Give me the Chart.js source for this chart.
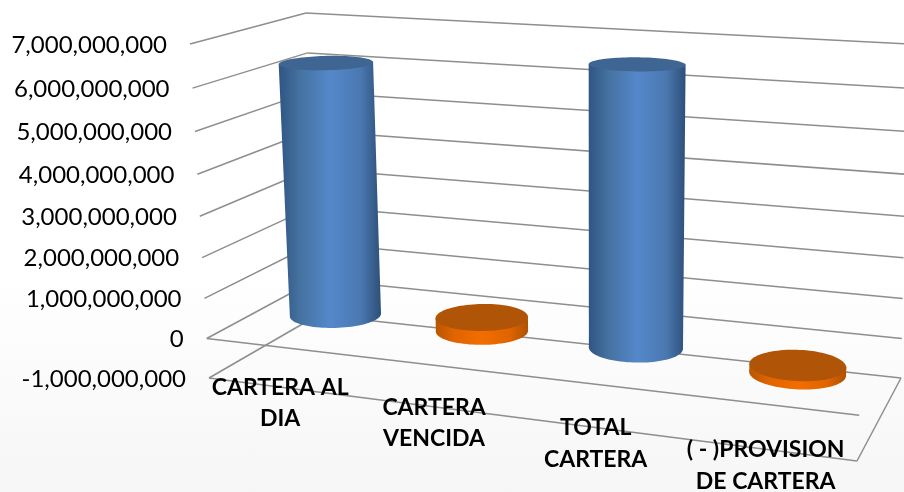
<!DOCTYPE html>
<html>
<head>
<meta charset="utf-8">
<script src="https://cdn.jsdelivr.net/npm/chart.js@4"></script>
<style>
html, body { margin: 0; padding: 0; width: 904px; height: 492px; overflow: hidden; }
body { background: linear-gradient(to bottom, #ffffff 55%, #f6f6f6 100%); }
canvas { display: block; }
</style>
</head>
<body>
<canvas id="grafik" width="904" height="492"></canvas>
<script>
const categories = [
    ['CARTERA AL', 'DIA'],
    ['CARTERA', 'VENCIDA'],
    ['TOTAL', 'CARTERA'],
    ['( - )PROVISION', 'DE CARTERA']
];
const carteraValues = [6250000000, 340000000, 6600000000, -190000000];
const barTints = ['blue', 'orange', 'blue', 'orange'];

// corners of the 3d box on screen: top = axis max, bottom = axis min
const box = {
    frontLeft: [[190, 44], [209, 378]],
    backLeft: [[306, 13], [318, 315]],
    frontRight: [[876, 75], [857, 461]],
    backRight: [[908, 44], [901, 378]]
};
const stretchX = 0.905;
const stretchY = 1.065;

const tints = {
    blue: { top: '#3f6592', stops: ['#2f5583', '#44719f', '#5588cb', '#4a78b0', '#2e4f79'] },
    orange: { top: '#b05507', stops: ['#b85600', '#e06400', '#f26d00', '#e06400', '#ad5200'] }
};

function mix(a, b, t) {
    return [a[0] + (b[0] - a[0]) * t, a[1] + (b[1] - a[1]) * t];
}

function warp(t, k) {
    return k * t / (1 + (k - 1) * t);
}

// px,py are pixels from the chart scales, depth 0 = front, 1 = back
function project(chart, px, py, depth) {
    const area = chart.chartArea;
    const u = warp((px - area.left) / (area.right - area.left), stretchX);
    const v = warp((py - area.top) / (area.bottom - area.top), stretchY);
    const left = mix(mix(box.frontLeft[0], box.frontLeft[1], v), mix(box.backLeft[0], box.backLeft[1], v), depth);
    const right = mix(mix(box.frontRight[0], box.frontRight[1], v), mix(box.backRight[0], box.backRight[1], v), depth);
    return mix(left, right, u);
}

function line(ctx, a, b) {
    ctx.beginPath();
    ctx.moveTo(a[0], a[1]);
    ctx.lineTo(b[0], b[1]);
    ctx.stroke();
}

function disc(chart, cx, py, ru, rd) {
    const width = chart.chartArea.right - chart.chartArea.left;
    const pts = [];
    for (let a = 0; a < 90; a++) {
        const t = a / 90 * Math.PI * 2;
        pts.push(project(chart, cx + Math.cos(t) * ru * width, py, 0.53 + Math.sin(t) * rd));
    }
    return pts;
}

function fillPts(ctx, pts) {
    ctx.beginPath();
    pts.forEach((p, i) => i ? ctx.lineTo(p[0], p[1]) : ctx.moveTo(p[0], p[1]));
    ctx.closePath();
    ctx.fill();
}

function drawCylinder(chart, bar, tint) {
    const ctx = chart.ctx;
    const width = chart.chartArea.right - chart.chartArea.left;
    const ru = bar.width / 2 / width;
    const topY = Math.min(bar.y, bar.base);
    const bottomY = Math.max(bar.y, bar.base);
    const top = disc(chart, bar.x, topY, ru, 0.2);
    const bottom = disc(chart, bar.x, bottomY, ru, 0.2);

    const xs = bottom.concat(top).map(p => p[0]);
    const grad = ctx.createLinearGradient(Math.min(...xs), 0, Math.max(...xs), 0);
    const stops = tints[tint].stops;
    [0, 0.2, 0.5, 0.8, 1].forEach((s, i) => grad.addColorStop(s, stops[i]));
    ctx.fillStyle = grad;

    const byX = arr => arr.slice().sort((a, b) => a[0] - b[0]);
    const tl = byX(top)[0], tr = byX(top)[top.length - 1];
    const bl = byX(bottom)[0], br = byX(bottom)[bottom.length - 1];
    fillPts(ctx, bottom);
    fillPts(ctx, [tl, tr, br, bl]);
    ctx.fillStyle = tints[tint].top;
    fillPts(ctx, top);
}

const box3d = {
    id: 'box3d',
    beforeDatasetsDraw(chart) {
        const ctx = chart.ctx;
        const y = chart.scales.y;
        const area = chart.chartArea;
        const l = area.left, r = area.right;

        ctx.save();
        ctx.strokeStyle = '#8e8e8e';
        ctx.lineWidth = 1.5;
        y.ticks.forEach(tick => {
            const py = y.getPixelForValue(tick.value);
            line(ctx, project(chart, l, py, 0), project(chart, l, py, 1));
            line(ctx, project(chart, l, py, 1), project(chart, r, py, 1));
        });
        const zero = y.getPixelForValue(0);
        const low = y.getPixelForValue(y.min);
        line(ctx, project(chart, l, zero, 0), project(chart, r, zero, 0));
        line(ctx, project(chart, l, low, 0), project(chart, r, low, 0));
        line(ctx, project(chart, r, low, 0), project(chart, r, low, 1));
        ctx.restore();
    },
    afterDatasetsDraw(chart) {
        const ctx = chart.ctx;
        const y = chart.scales.y;
        const bars = chart.getDatasetMeta(0).data;
        ctx.save();
        // bars never overlap so the order does not matter
        bars.forEach((bar, i) => drawCylinder(chart, bar, barTints[i]));

        ctx.fillStyle = '#000';
        ctx.textBaseline = 'middle';

        ctx.font = '24px Lato';
        ctx.textAlign = 'right';
        y.ticks.forEach(tick => {
            const py = y.getPixelForValue(tick.value);
            const p = project(chart, chart.chartArea.left, py, 0);
            ctx.fillText(tick.value.toLocaleString('en-US'), p[0] - 23, p[1] + 1);
        });

        ctx.font = 'bold 23px Lato';
        ctx.textAlign = 'center';
        bars.forEach((bar, i) => {
            const p = project(chart, bar.x, y.getPixelForValue(y.min), 0);
            categories[i].forEach((txt, n) => {
                ctx.fillText(txt, p[0] - 3, p[1] + n * 31.5);
            });
        });
        ctx.restore();
    }
};

new Chart(document.getElementById('grafik').getContext('2d'), {
    type: 'bar',
    data: {
        labels: categories,
        datasets: [{
            data: carteraValues,
            backgroundColor: 'rgba(0,0,0,0)',
            categoryPercentage: 1,
            barPercentage: 0.57
        }]
    },
    plugins: [box3d],
    options: {
        responsive: false,
        animation: false,
        layout: { padding: 0 },
        plugins: { legend: { display: false }, tooltip: { enabled: false } },
        scales: {
            x: { display: false },
            y: { display: false, min: -1000000000, max: 7000000000, ticks: { stepSize: 1000000000 } }
        }
    }
});
</script>
</body>
</html>
